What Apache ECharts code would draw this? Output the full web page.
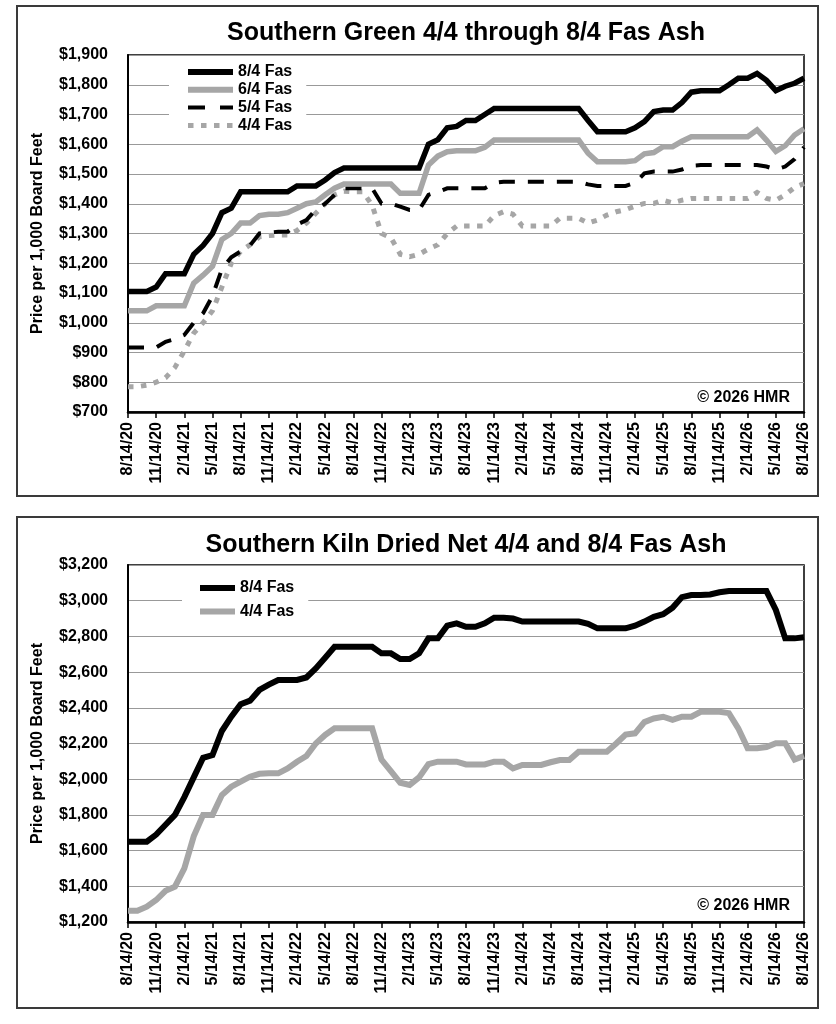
<!DOCTYPE html>
<html>
<head>
<meta charset="utf-8">
<script src="https://cdn.jsdelivr.net/npm/echarts@6/dist/echarts.min.js"></script>
<style>
  html, body { margin: 0; padding: 0; background: #fff; }
  #c1, #c2 { width: 836px; height: 512px; }
</style>
</head>
<body>
<div id="c1"></div>
<div id="c2"></div>
<script>
// ---- categories (monthly, labelled every 3rd) ----
const categories = [
  '8/14/20','9/14/20','10/14/20','11/14/20','12/14/20',
  '1/14/21','2/14/21','3/14/21','4/14/21','5/14/21','6/14/21','7/14/21','8/14/21','9/14/21','10/14/21','11/14/21','12/14/21',
  '1/14/22','2/14/22','3/14/22','4/14/22','5/14/22','6/14/22','7/14/22','8/14/22','9/14/22','10/14/22','11/14/22','12/14/22',
  '1/14/23','2/14/23','3/14/23','4/14/23','5/14/23','6/14/23','7/14/23','8/14/23','9/14/23','10/14/23','11/14/23','12/14/23',
  '1/14/24','2/14/24','3/14/24','4/14/24','5/14/24','6/14/24','7/14/24','8/14/24','9/14/24','10/14/24','11/14/24','12/14/24',
  '1/14/25','2/14/25','3/14/25','4/14/25','5/14/25','6/14/25','7/14/25','8/14/25','9/14/25','10/14/25','11/14/25','12/14/25',
  '1/14/26','2/14/26','3/14/26','4/14/26','5/14/26','6/14/26','7/14/26','8/14/26'
];

// ---- Southern Green (top chart) ----
const green84 = [
  1105,1105,1105,1120,1165,1165,1165,1230,1260,1300,
  1370,1385,1440,1440,1440,1440,1440,1440,1460,1460,
  1460,1480,1505,1520,1520,1520,1520,1520,1520,1520,
  1520,1520,1600,1615,1655,1660,1680,1680,1700,1720,
  1720,1720,1720,1720,1720,1720,1720,1720,1720,1680,
  1642,1642,1642,1642,1655,1676,1710,1715,1715,1740,
  1775,1780,1780,1780,1800,1822,1822,1838,1815,1780,
  1795,1805,1822
];
const green64 = [
  1040,1040,1040,1057,1057,1057,1057,1133,1160,1190,
  1280,1300,1335,1335,1360,1365,1365,1370,1385,1400,
  1406,1430,1452,1466,1466,1466,1466,1466,1466,1435,
  1435,1435,1530,1560,1575,1578,1578,1578,1590,1614,
  1614,1614,1614,1614,1614,1614,1614,1614,1614,1570,
  1541,1541,1541,1541,1545,1568,1572,1592,1592,1610,
  1625,1625,1625,1625,1625,1625,1625,1648,1614,1576,
  1595,1631,1652
];
const green54 = [
  917,917,917,917,936,945,959,1000,1032,1090,
  1180,1220,1240,1260,1300,1303,1306,1306,1330,1345,
  1380,1400,1430,1452,1452,1452,1452,1401,1401,1390,
  1379,1379,1430,1440,1452,1452,1452,1452,1452,1470,
  1474,1474,1474,1474,1474,1474,1474,1474,1474,1465,
  1460,1460,1460,1460,1470,1502,1508,1508,1508,1515,
  1528,1530,1530,1530,1530,1530,1530,1530,1525,1515,
  1525,1550,1590
];
const green44 = [
  785,785,790,800,815,850,905,965,1000,1040,
  1120,1200,1240,1262,1289,1293,1295,1295,1310,1335,
  1368,1400,1430,1442,1440,1440,1395,1300,1286,1230,
  1222,1230,1248,1262,1300,1325,1325,1325,1325,1360,
  1373,1365,1325,1325,1325,1325,1351,1351,1351,1335,
  1345,1362,1373,1380,1392,1401,1401,1412,1403,1412,
  1418,1418,1418,1418,1418,1418,1418,1438,1418,1412,
  1430,1455,1468
];

// ---- Southern Kiln Dried (bottom chart) ----
const kd84 = [
  1650,1650,1650,1690,1745,1800,1900,2010,2120,2135,
  2270,2350,2420,2440,2500,2530,2556,2556,2556,2570,
  2620,2680,2742,2742,2742,2742,2742,2705,2705,2673,
  2673,2705,2789,2789,2860,2873,2854,2854,2873,2905,
  2905,2900,2883,2883,2883,2883,2883,2883,2883,2870,
  2845,2845,2845,2845,2860,2883,2910,2924,2960,3020,
  3032,3032,3035,3047,3054,3054,3054,3054,3054,2948,
  2789,2789,2795
];
const kd44 = [
  1263,1263,1286,1323,1375,1398,1500,1680,1800,1800,
  1911,1958,1986,2014,2030,2033,2033,2060,2098,2130,
  2200,2248,2285,2285,2285,2285,2285,2110,2045,1980,
  1968,2010,2085,2098,2098,2098,2083,2083,2083,2098,
  2098,2060,2080,2080,2080,2095,2107,2107,2154,2154,
  2154,2154,2200,2250,2257,2320,2340,2350,2332,2350,
  2350,2378,2378,2378,2370,2285,2173,2173,2180,2201,
  2201,2110,2130
];

// ---- texts ----
const title1 = 'Southern Green 4/4 through 8/4 Fas Ash';
const title2 = 'Southern Kiln Dried Net 4/4 and 8/4 Fas Ash';
const yName = 'Price per 1,000 Board Feet';
const credit = '\u00a9 2026 HMR';

const FONT = 'Arial, "Liberation Sans", Helvetica, sans-serif';
const GRAY = '#a6a6a6';

function money(v) { return '$' + v.toLocaleString('en-US'); }

function build(cfg) {
  return {
    animation: false,
    backgroundColor: '#fff',
    textStyle: { fontFamily: FONT },
    grid: {
      left: 128, right: 32, top: cfg.gridTop, height: 357,
      show: true, borderColor: '#000', borderWidth: 1.5, backgroundColor: 'transparent'
    },
    legend: {
      orient: 'vertical',
      left: cfg.legendLeft, top: cfg.legendTop,
      padding: cfg.legendPad,
      itemWidth: cfg.legendIconW, itemHeight: 16, itemGap: cfg.legendGap,
      backgroundColor: '#fff',
      textStyle: { fontFamily: FONT, fontWeight: 'bold', fontSize: 16, color: '#000', lineHeight: 16 },
      data: cfg.legendData.map(d => Object.assign({ itemStyle: { opacity: 0 } }, d)),
      selectedMode: false
    },
    xAxis: {
      type: 'category', data: categories, boundaryGap: false,
      axisLine: { show: true, lineStyle: { color: '#000', width: 2.5 } },
      axisTick: { show: true, interval: 2, length: 6, lineStyle: { color: '#000', width: 1.5 } },
      axisLabel: { interval: 2, rotate: 90, margin: 10, color: '#000', fontFamily: FONT, fontWeight: 'bold', fontSize: 16 },
      splitLine: { show: false }
    },
    yAxis: {
      type: 'value', min: cfg.yMin, max: cfg.yMax, interval: cfg.yInt,
      axisLine: { show: true, lineStyle: { color: '#000', width: 2 } },
      axisTick: { show: false },
      axisLabel: { margin: 20, color: '#000', fontFamily: FONT, fontWeight: 'bold', fontSize: 16, formatter: money },
      splitLine: { show: true, lineStyle: { color: '#999', width: 1 } }
    },
    series: cfg.series.map(s => ({
      type: 'line', name: s.name, data: s.data,
      symbol: 'none', showSymbol: false, smooth: false,
      lineStyle: { color: s.color, width: s.width, type: s.dash || 'solid', cap: 'butt', join: 'miter' },
      itemStyle: { color: s.color },
      z: s.z || 2
    })),
    graphic: [
      { type: 'rect', silent: true, z: -10,
        shape: { x: 17, y: cfg.boxY, width: 801, height: cfg.boxH },
        style: { fill: 'none', stroke: '#3a3a3a', lineWidth: 2 } },
      { type: 'text', silent: true,
        style: { text: cfg.title, x: 466, y: cfg.titleY, textAlign: 'center', textVerticalAlign: 'middle',
                 font: 'bold 25px ' + FONT, fill: '#000' } },
      { type: 'text', silent: true, rotation: Math.PI / 2, x: 38, y: cfg.gridTop + 178.5,
        style: { text: yName, x: 0, y: 0, textAlign: 'center', textVerticalAlign: 'middle',
                 font: 'bold 16px ' + FONT, fill: '#000' } },
      { type: 'text', silent: true, z: 100,
        style: { text: credit, x: 790, y: cfg.creditY, textAlign: 'right', textVerticalAlign: 'middle',
                 font: 'bold 16px ' + FONT, fill: '#000' } }
    ]
  };
}

const chart1 = echarts.init(document.getElementById('c1'), null, { renderer: 'canvas' });
chart1.setOption(build({
  gridTop: 55, yMin: 700, yMax: 1900, yInt: 100,
  boxY: 6, boxH: 490, titleY: 33, creditY: 398,
  legendLeft: 169, legendTop: 58, legendPad: [6, 14, 6, 16], legendIconW: 45, legendGap: 1.8,
  legendData: [
    { name: '8/4 Fas', lineStyle: { width: 6, type: 'solid', color: '#000' } },
    { name: '6/4 Fas', lineStyle: { width: 6, type: 'solid', color: GRAY } },
    { name: '5/4 Fas', lineStyle: { width: 4, type: [17, 15], color: '#000', cap: 'butt' } },
    { name: '4/4 Fas', lineStyle: { width: 5, type: [5.5, 7.5], color: GRAY, cap: 'butt' } }
  ],
  title: title1,
  series: [
    { name: '8/4 Fas', data: green84, color: '#000', width: 5.5, z: 5 },
    { name: '6/4 Fas', data: green64, color: GRAY, width: 5.5, z: 4 },
    { name: '5/4 Fas', data: green54, color: '#000', width: 4, dash: [16, 13], z: 3 },
    { name: '4/4 Fas', data: green44, color: GRAY, width: 5, dash: [5.5, 7.5], z: 2 }
  ]
}));

const chart2 = echarts.init(document.getElementById('c2'), null, { renderer: 'canvas' });
chart2.setOption(build({
  gridTop: 53, yMin: 1200, yMax: 3200, yInt: 200,
  boxY: 5, boxH: 491, titleY: 33.5, creditY: 394,
  legendLeft: 182, legendTop: 62, legendPad: [6, 14, 6, 15], legendIconW: 35, legendGap: 7.5,
  legendData: [
    { name: '8/4 Fas', lineStyle: { width: 6, type: 'solid', color: '#000' } },
    { name: '4/4 Fas', lineStyle: { width: 6, type: 'solid', color: GRAY } }
  ],
  title: title2,
  series: [
    { name: '8/4 Fas', data: kd84, color: '#000', width: 6, z: 5 },
    { name: '4/4 Fas', data: kd44, color: GRAY, width: 6, z: 4 }
  ]
}));
</script>
</body>
</html>
